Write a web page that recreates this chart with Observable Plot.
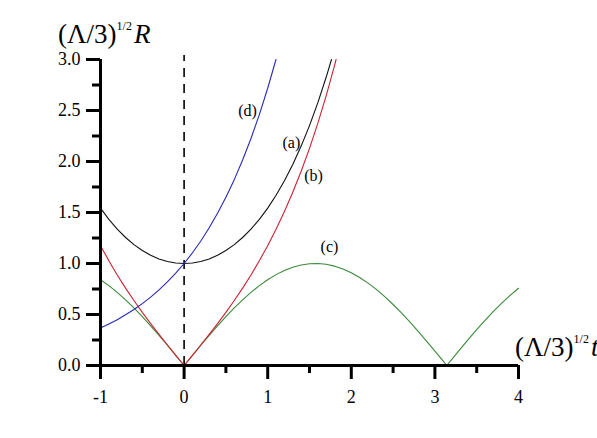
<!DOCTYPE html>
<html>
<head>
<meta charset="utf-8">
<script src="https://cdn.jsdelivr.net/npm/d3@7"></script>
<script src="https://cdn.jsdelivr.net/npm/@observablehq/plot@0.6"></script>
<style>
  html, body { margin: 0; padding: 0; background: #fff; }
  #chart { width: 597px; height: 438px; }
</style>
</head>
<body>
<div id="chart"></div>
<script>
// (a) black curve
const tA = [-1.0,-0.9,-0.8,-0.7,-0.6,-0.5,-0.4,-0.3,-0.2,-0.1,0,0.1,0.2,0.3,0.4,0.5,0.6,0.7,0.8,0.9,1.0,1.1,1.2,1.3,1.4,1.5,1.6,1.7,1.763];
const rA = [1.543,1.433,1.337,1.255,1.185,1.128,1.081,1.045,1.020,1.005,1.000,1.005,1.020,1.045,1.081,1.128,1.185,1.255,1.337,1.433,1.543,1.669,1.811,1.971,2.151,2.352,2.577,2.828,3.0];
// (b) red curve
const tB = [-1.0,-0.9,-0.8,-0.7,-0.6,-0.5,-0.4,-0.3,-0.2,-0.1,0,0.1,0.2,0.3,0.4,0.5,0.6,0.7,0.8,0.9,1.0,1.1,1.2,1.3,1.4,1.5,1.6,1.7,1.8,1.818];
const rB = [1.175,1.027,0.888,0.759,0.637,0.521,0.411,0.305,0.201,0.100,0,0.100,0.201,0.305,0.411,0.521,0.637,0.759,0.888,1.027,1.175,1.336,1.509,1.698,1.904,2.129,2.376,2.646,2.942,3.0];
// (c) green curve
const tC = [-1.0,-0.9,-0.8,-0.7,-0.6,-0.5,-0.4,-0.3,-0.2,-0.1,0,0.1,0.2,0.3,0.4,0.5,0.6,0.7,0.8,0.9,1.0,1.1,1.2,1.3,1.4,1.5,1.6,1.7,1.8,1.9,2.0,2.1,2.2,2.3,2.4,2.5,2.6,2.7,2.8,2.9,3.0,3.1,3.1416,3.2,3.3,3.4,3.5,3.6,3.7,3.8,3.9,4.0];
const rC = [0.841,0.783,0.717,0.644,0.565,0.479,0.389,0.296,0.199,0.100,0,0.100,0.199,0.296,0.389,0.479,0.565,0.644,0.717,0.783,0.841,0.891,0.932,0.964,0.985,0.997,1.000,0.992,0.974,0.946,0.909,0.863,0.808,0.746,0.675,0.598,0.516,0.427,0.335,0.239,0.141,0.042,0,0.058,0.158,0.256,0.351,0.443,0.530,0.612,0.688,0.757];
// (d) blue curve
const tD = [-1.0,-0.9,-0.8,-0.7,-0.6,-0.5,-0.4,-0.3,-0.2,-0.1,0,0.1,0.2,0.3,0.4,0.5,0.6,0.7,0.8,0.9,1.0,1.099];
const rD = [0.368,0.407,0.449,0.497,0.549,0.607,0.670,0.741,0.819,0.905,1.000,1.105,1.221,1.350,1.492,1.649,1.822,2.014,2.226,2.460,2.718,3.0];

const curveLabels = ["(a)", "(b)", "(c)", "(d)"];
const labelT = [1.283, 1.548, 1.739, 0.758];
const labelR = [2.186, 1.863, 1.162, 2.5];

const xMajor = [-1, 0, 1, 2, 3, 4];
const xMinor = [-0.5, 0.5, 1.5, 2.5, 3.5];
const yMajor = [0, 0.5, 1.0, 1.5, 2.0, 2.5, 3.0];
const yMinor = [0.25, 0.75, 1.25, 1.75, 2.25, 2.75];

const zip = (t, r) => t.map((v, i) => ({t: v, r: r[i]}));
const labels = curveLabels.map((s, i) => ({s, t: labelT[i], r: labelR[i]}));

const font = "'Liberation Serif', 'Times New Roman', serif";

const plot = Plot.plot({
  width: 597,
  height: 438,
  marginLeft: 100,
  marginRight: 79,
  marginTop: 59,
  marginBottom: 73,
  style: {fontFamily: font, fontSize: "17px", background: "#fff", color: "#000"},
  x: {domain: [-1, 4]},
  y: {domain: [0, 3]},
  marks: [
    Plot.ruleX([0], {y1: 0, y2: 3.04, stroke: "#000", strokeWidth: 1.6, strokeDasharray: "9,7", clip: false}),
    Plot.line(zip(tC, rC), {x: "t", y: "r", stroke: "#3a8a3a", strokeWidth: 1.1}),
    Plot.line(zip(tA, rA), {x: "t", y: "r", stroke: "#111", strokeWidth: 1.1}),
    Plot.line(zip(tB, rB), {x: "t", y: "r", stroke: "#d02030", strokeWidth: 1.1}),
    Plot.line(zip(tD, rD), {x: "t", y: "r", stroke: "#2828b8", strokeWidth: 1.1}),
    Plot.text(labels, {x: "t", y: "r", text: "s", fontSize: 16, fontFamily: font, fill: "#000"}),
    Plot.ruleX([-1], {y1: 0, y2: 3, stroke: "#000", strokeWidth: 3}),
    Plot.ruleY([0], {x1: -1, x2: 4, stroke: "#000", strokeWidth: 3}),
    Plot.axisX({ticks: xMajor, tickSize: 14, strokeWidth: 3, tickPadding: 11, tickFormat: d => String(d), fontSize: 18, label: null}),
    Plot.axisX({ticks: xMinor, tickSize: 8, strokeWidth: 3, tickFormat: () => "", label: null}),
    Plot.axisY({ticks: yMajor, tickSize: 14, strokeWidth: 3, tickPadding: 6, tickFormat: d3.format(".1f"), fontSize: 18, label: null}),
    Plot.axisY({ticks: yMinor, tickSize: 8, strokeWidth: 3, tickFormat: () => "", label: null})
  ]
});

document.getElementById("chart").appendChild(plot);

// Axis titles
const svg = d3.select(plot);
function title(x, y) {
  const t = svg.append("text")
    .attr("x", x).attr("y", y)
    .attr("text-anchor", "start")
    .attr("font-family", font)
    .attr("font-size", 27)
    .attr("fill", "#000");
  t.append("tspan").text("(Λ/3)");
  return t;
}
const yt = title(58, 43);
yt.append("tspan").attr("font-size", 12).attr("dy", -13).text("1/2");
yt.append("tspan").attr("dy", 13).attr("font-style", "italic").attr("dx", 2).text("R");

const xt = title(515, 356);
xt.append("tspan").attr("font-size", 12).attr("dy", -13).text("1/2");
xt.append("tspan").attr("dy", 13).attr("font-style", "italic").attr("dx", 2).text("t");
</script>
</body>
</html>
